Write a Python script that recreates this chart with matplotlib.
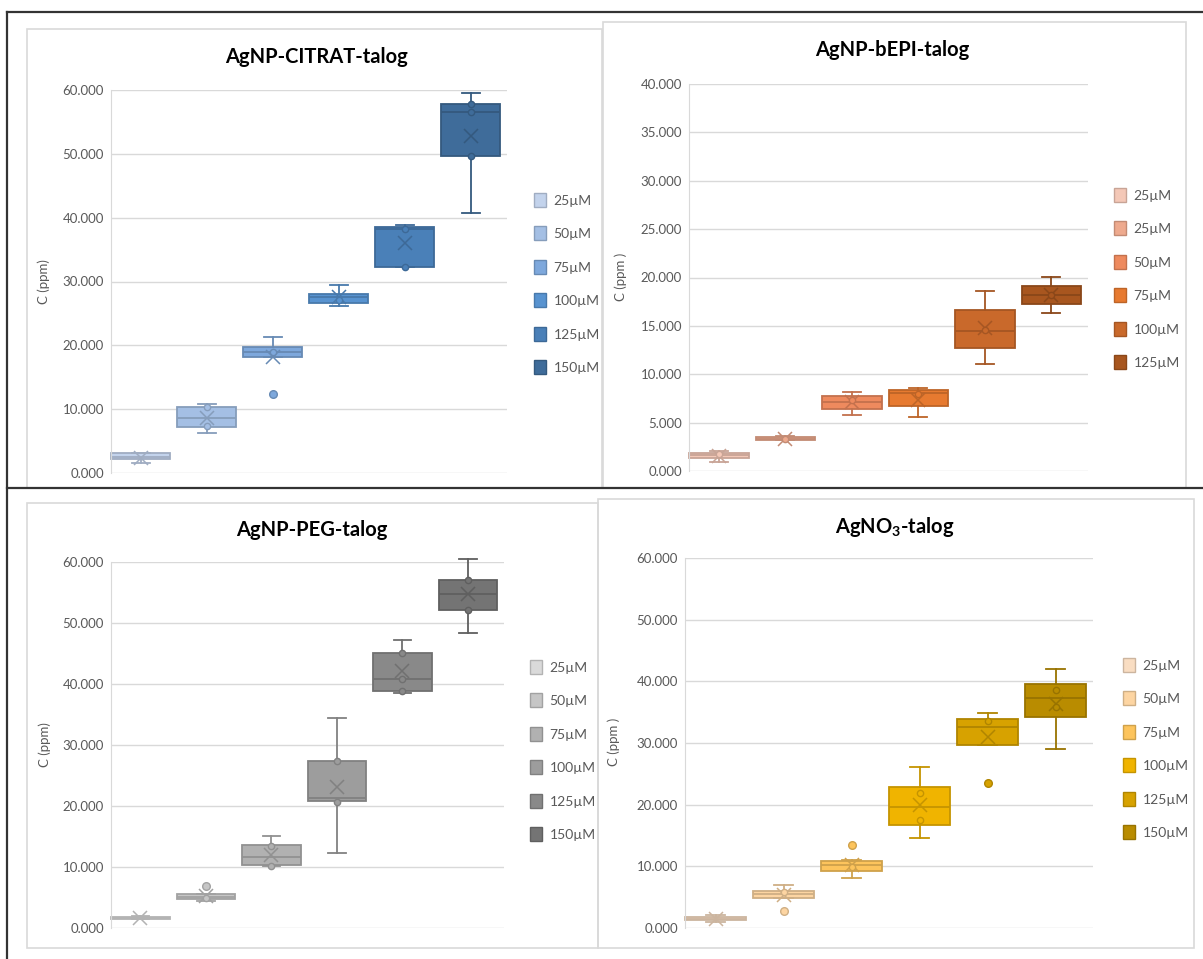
import numpy as np
import matplotlib
matplotlib.use('Agg')
import matplotlib.pyplot as plt
from matplotlib.patches import Patch, Rectangle
from matplotlib.lines import Line2D
from matplotlib.colors import to_rgb

plt.rcParams.update({
    'font.family': ['Lato', 'DejaVu Sans'],
    'mathtext.fontset': 'custom',
    'mathtext.rm': 'Lato',
    'mathtext.bf': 'Lato:bold',
})

W, H = 1203, 959

# ── data (ppm) ────────────────────────────────────────────────
citrat_labels = ['25µM', '50µM', '75µM', '100µM', '125µM', '150µM']
citrat_q1 = [2.2, 7.2, 18.1, 26.7, 32.3, 49.6]
citrat_med = [2.5, 8.6, 19.0, 27.5, 38.3, 56.5]
citrat_q3 = [3.1, 10.4, 19.7, 28.1, 38.5, 57.8]
citrat_lo = [1.6, 6.3, 18.1, 26.1, 32.2, 40.8]
citrat_hi = [3.2, 10.8, 21.3, 29.4, 38.8, 59.6]
citrat_mean = [2.4, 8.6, 18.1, 27.6, 36.0, 52.8]
citrat_inner = [[], [10.3, 7.3], [18.9], [27.1], [38.3, 32.3], [57.8, 56.5, 49.6]]
citrat_out = [[], [], [12.4], [], [], []]

bepi_labels = ['25µM', '25µM', '50µM', '75µM', '100µM', '125µM']
bepi_q1 = [1.35, 3.17, 6.45, 6.72, 12.7, 17.25]
bepi_med = [1.62, 3.34, 7.1, 8.03, 14.45, 18.17]
bepi_q3 = [1.9, 3.48, 7.72, 8.41, 16.62, 19.17]
bepi_lo = [0.97, 3.2, 5.8, 5.62, 11.1, 16.38]
bepi_hi = [2.1, 3.65, 8.14, 8.62, 18.62, 20.1]
bepi_mean = [1.55, 3.31, 7.14, 7.38, 14.83, 18.17]
bepi_inner = [[1.8], [3.3], [7.3], [8.0], [14.55], [18.2]]
bepi_out = [[], [], [], [], [], []]

peg_labels = ['25µM', '50µM', '75µM', '100µM', '125µM', '150µM']
peg_q1 = [1.5, 4.7, 10.27, 20.77, 38.9, 52.1]
peg_med = [1.65, 5.1, 11.64, 21.3, 40.8, 54.75]
peg_q3 = [1.85, 5.52, 13.55, 27.32, 45.14, 57.05]
peg_lo = [1.4, 4.5, 10.2, 12.35, 38.6, 48.3]
peg_hi = [1.9, 5.52, 15.08, 34.4, 47.2, 60.5]
peg_mean = [1.6, 5.3, 11.9, 23.1, 42.1, 54.8]
peg_inner = [[], [4.9], [13.5, 10.2], [27.3, 20.6], [45.1, 40.8, 38.9], [57.0, 52.2]]
peg_out = [[], [6.9], [], [], [], []]

agno3_labels = ['25µM', '50µM', '75µM', '100µM', '125µM', '150µM']
agno3_q1 = [1.25, 4.87, 9.31, 16.68, 29.67, 34.16]
agno3_med = [1.5, 5.58, 10.18, 19.65, 32.65, 37.25]
agno3_q3 = [1.73, 6.06, 10.83, 22.9, 33.9, 39.52]
agno3_lo = [1.0, 4.87, 8.18, 14.6, 29.67, 29.1]
agno3_hi = [2.05, 6.93, 11.0, 26.1, 34.87, 42.0]
agno3_mean = [1.5, 5.3, 10.29, 19.9, 30.9, 36.3]
agno3_inner = [[], [5.85], [9.9], [21.9, 17.5], [33.5], [38.65, 35.9]]
agno3_out = [[], [2.7], [13.43], [], [23.55], []]

citrat_colors = ['#c3d3ec', '#a4bfe4', '#7ea8dc', '#5893d0', '#4a80b8', '#3f6c9a']
bepi_colors = ['#f4c8b7', '#eeaa8e', '#ee8a5e', '#e77a30', '#c9692b', '#a8561f']
peg_colors = ['#dadada', '#c6c6c6', '#b1b1b1', '#9d9d9d', '#898989', '#747474']
agno3_colors = ['#f9ddc2', '#fdd5a2', '#fdc45c', '#f0b400', '#d7a200', '#b98c00']


def px(x, y):
    return x / W, 1 - y / H


def darker(c, f=0.82):
    r, g, b = to_rgb(c)
    return (r * f, g * f, b * f)


fig = plt.figure(figsize=(W / 100, H / 100), dpi=100)

# panel frames (light grey) and black separators of the composite
for (x0, y0, x1, y1) in [(27, 29, 602, 488), (603, 22, 1186, 488),
                         (27, 503, 598, 948), (598, 499, 1194, 948)]:
    fx0, fy1 = px(x0, y1)
    fx1, fy0 = px(x1, y0)
    fig.patches.append(Rectangle((fx0, fy1), fx1 - fx0, fy0 - fy1,
                                 transform=fig.transFigure, fill=False,
                                 edgecolor='#d9d9d9', lw=1.2, zorder=0))
for (xa, ya, xb, yb) in [(7, 12, 1203, 12), (7, 12, 7, 959), (7, 488, 1203, 488)]:
    a, b = px(xa, ya)
    c, d = px(xb, yb)
    fig.lines.append(Line2D([a, c], [b, d], transform=fig.transFigure,
                            color='#333333', lw=1.6, zorder=5))


def panel(box_px, q1, med, q3, lo, hi, mean, inner, out, colors, labels,
          title, title_xy, ymax, ystep, ylabel, ylabel_xy, leg_xy):
    l, t, r, b = box_px
    fl, fb = px(l, b)
    fr, ft = px(r, t)
    ax = fig.add_axes([fl, fb, fr - fl, ft - fb])
    pos = np.arange(1, len(q1) + 1)
    stats = [dict(q1=q1[i], med=med[i], q3=q3[i], whislo=lo[i], whishi=hi[i],
                  mean=mean[i], fliers=out[i]) for i in range(len(q1))]
    res = ax.bxp(stats, positions=pos, widths=0.9, patch_artist=True,
                 showmeans=True, capwidths=0.27)
    for i, c in enumerate(colors):
        e = darker(c)
        res['boxes'][i].set(facecolor=c, edgecolor=e, lw=1.3)
        res['medians'][i].set(color=e, lw=1.3)
        for k in (2 * i, 2 * i + 1):
            res['whiskers'][k].set(color=e, lw=1.3)
            res['caps'][k].set(color=e, lw=1.3)
        res['means'][i].set(marker='x', markersize=10, markeredgecolor=e,
                            markeredgewidth=1.1, markerfacecolor='none')
        res['fliers'][i].set(marker='o', markersize=5.5, markerfacecolor=c,
                             markeredgecolor=e, markeredgewidth=1)
        if inner[i]:
            ax.plot([pos[i]] * len(inner[i]), inner[i], 'o', ms=4.5,
                    mfc=c, mec=e, mew=1, zorder=4)
    for arts in res.values():
        for a in arts:
            a.set_clip_on(False)

    ax.set_xlim(0.55, 6.55)
    ax.set_ylim(0, ymax)
    ax.set_yticks(np.arange(0, ymax + 0.1, ystep))
    ax.set_yticklabels([f'{v:.3f}' for v in np.arange(0, ymax + 0.1, ystep)])
    ax.set_xticks([])
    ax.tick_params(axis='y', length=0, pad=5, labelsize=9.5, labelcolor='#595959')
    ax.grid(True, axis='y', color='#d9d9d9', lw=1)
    ax.set_axisbelow(True)
    for s in ('top', 'right', 'bottom'):
        ax.spines[s].set_visible(False)
    ax.spines['left'].set_color('#d9d9d9')

    tx, ty = px(*title_xy)
    fig.text(tx, ty, title, ha='center', va='center', fontsize=14.5,
             fontweight='bold', color='black')
    yx, yy = px(*ylabel_xy)
    fig.text(yx, yy, ylabel, ha='center', va='center', rotation=90,
             fontsize=9.5, color='#595959')

    handles = [Patch(facecolor=c, edgecolor=darker(c)) for c in colors]
    lx, ly = px(*leg_xy)
    ax.legend(handles, labels, loc='upper left', bbox_to_anchor=(lx, ly),
              bbox_transform=fig.transFigure, frameon=False, borderpad=0,
              fontsize=10, labelspacing=1.42, handlelength=0.9,
              handleheight=1.15, handletextpad=0.5, labelcolor='#595959')
    return ax


panel((111, 90, 507, 473), citrat_q1, citrat_med, citrat_q3, citrat_lo,
      citrat_hi, citrat_mean, citrat_inner, citrat_out, citrat_colors,
      citrat_labels, 'AgNP-CITRAT-talog', (316, 57), 60, 10, 'C (ppm)',
      (44, 282), (527, 186))

panel((689, 84, 1088, 471), bepi_q1, bepi_med, bepi_q3, bepi_lo,
      bepi_hi, bepi_mean, bepi_inner, bepi_out, bepi_colors,
      bepi_labels, 'AgNP-bEPI-talog', (892, 50), 40, 5, 'C (ppm )',
      (621, 277), (1107, 181))

panel((111, 562, 504, 928), peg_q1, peg_med, peg_q3, peg_lo,
      peg_hi, peg_mean, peg_inner, peg_out, peg_colors,
      peg_labels, 'AgNP-PEG-talog', (312, 530), 60, 10, 'C (ppm)',
      (45, 745), (523, 653))

panel((685, 558, 1093, 928), agno3_q1, agno3_med, agno3_q3, agno3_lo,
      agno3_hi, agno3_mean, agno3_inner, agno3_out, agno3_colors,
      agno3_labels, r'AgNO$_{\mathbf{3}}$-talog', (895, 527), 60, 10, 'C (ppm )',
      (614, 742), (1116, 651))

fig.savefig('out.png', dpi=100, facecolor='white')
